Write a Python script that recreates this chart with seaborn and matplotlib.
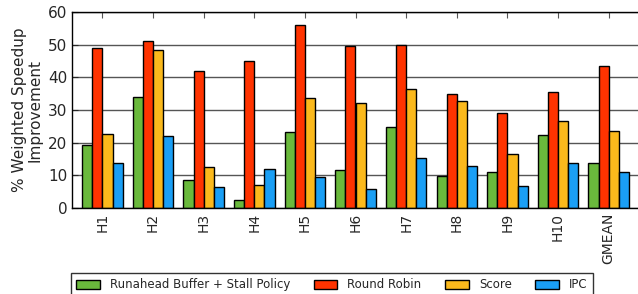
import numpy as np
import pandas as pd
import matplotlib
matplotlib.use("Agg")
import matplotlib.pyplot as plt
import seaborn as sns

workloads = ["H1", "H2", "H3", "H4", "H5", "H6", "H7", "H8", "H9", "H10", "GMEAN"]
policies = ["Runahead Buffer + Stall Policy", "Round Robin", "Score", "IPC"]

runahead_stall = [19.4, 34.0, 8.6, 2.5, 23.3, 11.7, 24.9, 9.8, 11.0, 22.2, 13.7]
round_robin = [49.0, 51.1, 41.8, 44.9, 56.0, 49.6, 50.0, 34.9, 29.1, 35.5, 43.5]
score = [22.6, 48.4, 12.7, 7.0, 33.7, 32.2, 36.5, 32.8, 16.6, 26.6, 23.6]
ipc = [13.8, 22.0, 6.3, 11.9, 9.6, 5.9, 15.4, 12.8, 6.7, 13.8, 10.9]

colors = ["#6ab93c", "#ff3300", "#fbb91c", "#1a9ff5"]

df = pd.DataFrame({
    "workload": workloads * 4,
    "policy": np.repeat(policies, len(workloads)),
    "value": runahead_stall + round_robin + score + ipc,
})

sns.set_style("white")
plt.rcParams["font.family"] = ["DejaVu Sans"]

fig = plt.figure(figsize=(6.38, 2.94), dpi=100)
ax = fig.add_axes([72 / 638, 1 - 208 / 294, 567 / 638, 196 / 294])

sns.barplot(data=df, x="workload", y="value", hue="policy", palette=colors,
            width=0.8, edgecolor="black", linewidth=1.0, saturation=1, ax=ax)

ax.set_xlim(-0.6, 10.6)
ax.set_ylim(0, 60)
ax.set_yticks([0, 10, 20, 30, 40, 50, 60])
ax.set_axisbelow(True)
ax.yaxis.grid(True, color="#555555", linewidth=1.0)
for s in ax.spines.values():
    s.set_color("black")
    s.set_linewidth(1.0)
ax.tick_params(axis="x", direction="in", top=True, bottom=True, length=4,
               color="#555555", labelsize=10, labelrotation=90)
ax.tick_params(axis="y", direction="in", left=True, length=4, labelsize=11)
ax.set_xlabel("")
ax.set_ylabel("% Weighted Speedup\nImprovement", fontsize=11, linespacing=1.0)

handles, labels = ax.get_legend_handles_labels()
ax.legend(handles, labels, ncol=4, loc="upper left", bbox_to_anchor=(-0.002, -0.332),
          borderaxespad=0, fontsize=8.5, frameon=True, fancybox=False, edgecolor="black",
          handlelength=2.0, handleheight=0.8, handletextpad=0.85,
          columnspacing=2.0, borderpad=0.45)

fig.savefig("out.png", dpi=100)
